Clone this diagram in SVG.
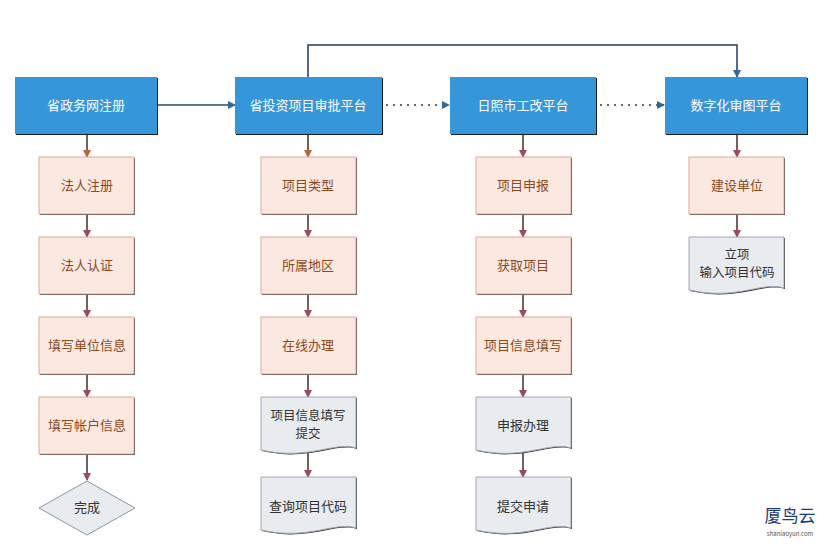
<svg xmlns="http://www.w3.org/2000/svg" width="835" height="547" viewBox="0 0 835 547">
<style>
text{font-family:"Noto Sans CJK SC","Liberation Sans",sans-serif;font-size:13px;text-anchor:middle}
.b rect.s{fill:#1a1a1a}.b rect.m{fill:#3596da}.b text{fill:#fff}
.p rect.s{fill:#333}.p rect.m{fill:#fbe9e1;stroke:#e0a898;stroke-width:1}.p text{fill:#8a4a1e}
.d path.s{fill:#333}.d path.m{fill:#e8ebef;stroke:#a0a6b0;stroke-width:1}.d text{fill:#333}
.c{fill:none;stroke-width:1.5}
</style>
<defs>
<marker id="ab" markerWidth="8" markerHeight="8" refX="7" refY="4" orient="auto" markerUnits="userSpaceOnUse"><path d="M0,0L8,4L0,8z" fill="#2f6a96"/></marker>
<marker id="ao" markerWidth="8" markerHeight="8" refX="7" refY="4" orient="auto" markerUnits="userSpaceOnUse"><path d="M0,0L8,4L0,8z" fill="#b8682a"/></marker>
<marker id="ar" markerWidth="8" markerHeight="8" refX="7" refY="4" orient="auto" markerUnits="userSpaceOnUse"><path d="M0,0L8,4L0,8z" fill="#9a4a62"/></marker>
</defs>
<rect width="835" height="547" fill="#fff"/>
<g id="connectors">
<path class="c" stroke="#1f4e6e" d="M157,105H235" marker-end="url(#ab)"/>
<path class="c" stroke="#1f3e58" d="M308,77V45H737V77" marker-end="url(#ab)"/>
<path class="c" stroke="#1f3e58" stroke-dasharray="2,5" d="M386,105H449" marker-end="url(#ab)"/>
<path class="c" stroke="#1f3e58" stroke-dasharray="2,5" d="M600,105H664" marker-end="url(#ab)"/>
<g stroke="#4a2a2a">
<path class="c" d="M87,134V157" marker-end="url(#ao)"/>
<path class="c" d="M308,134V157" marker-end="url(#ao)"/>
<path class="c" d="M523,134V157" marker-end="url(#ar)"/>
<path class="c" d="M737,134V157" marker-end="url(#ar)"/>
<path class="c" d="M87,214V237" marker-end="url(#ar)"/>
<path class="c" d="M87,294V317" marker-end="url(#ar)"/>
<path class="c" d="M87,374V397" marker-end="url(#ar)"/>
<path class="c" d="M87,454V480" marker-end="url(#ar)"/>
<path class="c" d="M308,214V237" marker-end="url(#ar)"/>
<path class="c" d="M308,294V317" marker-end="url(#ar)"/>
<path class="c" d="M308,374V397" marker-end="url(#ar)"/>
<path class="c" d="M308,450V477" marker-end="url(#ar)"/>
<path class="c" d="M523,214V237" marker-end="url(#ar)"/>
<path class="c" d="M523,294V317" marker-end="url(#ar)"/>
<path class="c" d="M523,374V397" marker-end="url(#ar)"/>
<path class="c" d="M523,450V477" marker-end="url(#ar)"/>
<path class="c" d="M737,214V237" marker-end="url(#ar)"/>
</g>
</g>
<g id="n1" class="b"><rect class="s" x="16" y="78" width="142" height="57"/><rect class="m" x="15" y="77" width="142" height="57"/><text x="86" y="110">省政务网注册</text></g>
<g id="n2" class="b"><rect class="s" x="236" y="78" width="147" height="57"/><rect class="m" x="235" y="77" width="147" height="57"/><text x="308" y="110">省投资项目审批平台</text></g>
<g id="n3" class="b"><rect class="s" x="451" y="78" width="146" height="57"/><rect class="m" x="450" y="77" width="146" height="57"/><text x="523" y="110">日照市工改平台</text></g>
<g id="n4" class="b"><rect class="s" x="666" y="78" width="142" height="57"/><rect class="m" x="665" y="77" width="142" height="57"/><text x="736" y="110">数字化审图平台</text></g>

<g id="a1" class="p"><rect class="s" x="40" y="158" width="95" height="57"/><rect class="m" x="39" y="157" width="95" height="57"/><text x="87" y="190">法人注册</text></g>
<g id="a2" class="p"><rect class="s" x="40" y="238" width="95" height="57"/><rect class="m" x="39" y="237" width="95" height="57"/><text x="87" y="270">法人认证</text></g>
<g id="a3" class="p"><rect class="s" x="40" y="318" width="95" height="57"/><rect class="m" x="39" y="317" width="95" height="57"/><text x="87" y="350">填写单位信息</text></g>
<g id="a4" class="p"><rect class="s" x="40" y="398" width="95" height="57"/><rect class="m" x="39" y="397" width="95" height="57"/><text x="87" y="430">填写帐户信息</text></g>
<g id="a5"><path d="M87,481L135,508L87,535L39,508Z" fill="#e8ebef" stroke="#8a96a4"/><text x="87" y="512" fill="#333">完成</text></g>

<g id="b1" class="p"><rect class="s" x="262" y="158" width="95" height="57"/><rect class="m" x="261" y="157" width="95" height="57"/><text x="308" y="190">项目类型</text></g>
<g id="b2" class="p"><rect class="s" x="262" y="238" width="95" height="57"/><rect class="m" x="261" y="237" width="95" height="57"/><text x="308" y="270">所属地区</text></g>
<g id="b3" class="p"><rect class="s" x="262" y="318" width="95" height="57"/><rect class="m" x="261" y="317" width="95" height="57"/><text x="308" y="350">在线办理</text></g>
<g id="b4" class="d"><path class="s" d="M262,398H357V449C335,442 310,462 262,451Z"/><path class="m" d="M261,397H356V448C334,441 309,461 261,450Z"/><text x="308" y="420" style="font-size:12.5px">项目信息填写</text><text x="308" y="438" style="font-size:12.5px">提交</text></g>
<g id="b5" class="d"><path class="s" d="M262,478H357V529C335,522 310,542 262,531Z"/><path class="m" d="M261,477H356V528C334,521 309,541 261,530Z"/><text x="308" y="511">查询项目代码</text></g>

<g id="c1" class="p"><rect class="s" x="477" y="158" width="95" height="57"/><rect class="m" x="476" y="157" width="95" height="57"/><text x="523" y="190">项目申报</text></g>
<g id="c2" class="p"><rect class="s" x="477" y="238" width="95" height="57"/><rect class="m" x="476" y="237" width="95" height="57"/><text x="523" y="270">获取项目</text></g>
<g id="c3" class="p"><rect class="s" x="477" y="318" width="95" height="57"/><rect class="m" x="476" y="317" width="95" height="57"/><text x="523" y="350">项目信息填写</text></g>
<g id="c4" class="d"><path class="s" d="M477,398H572V449C550,442 525,462 477,451Z"/><path class="m" d="M476,397H571V448C549,441 524,461 476,450Z"/><text x="523" y="430">申报办理</text></g>
<g id="c5" class="d"><path class="s" d="M477,478H572V529C550,522 525,542 477,531Z"/><path class="m" d="M476,477H571V528C549,521 524,541 476,530Z"/><text x="523" y="511">提交申请</text></g>

<g id="d1" class="p"><rect class="s" x="690" y="158" width="95" height="57"/><rect class="m" x="689" y="157" width="95" height="57"/><text x="737" y="190">建设单位</text></g>
<g id="d2" class="d"><path class="s" d="M690,238H785V289C763,282 738,302 690,291Z"/><path class="m" d="M689,237H784V288C762,281 737,301 689,290Z"/><text x="737" y="259" style="font-size:12.5px">立项</text><text x="737" y="277" style="font-size:12.5px">输入项目代码</text></g>

<g id="logo"><text x="790" y="522" style="font-size:17px;fill:#1a3a78">厦鸟云</text><text x="790" y="536" style="font-size:6px;fill:#555">shaniaoyun.com</text></g>
</svg>
